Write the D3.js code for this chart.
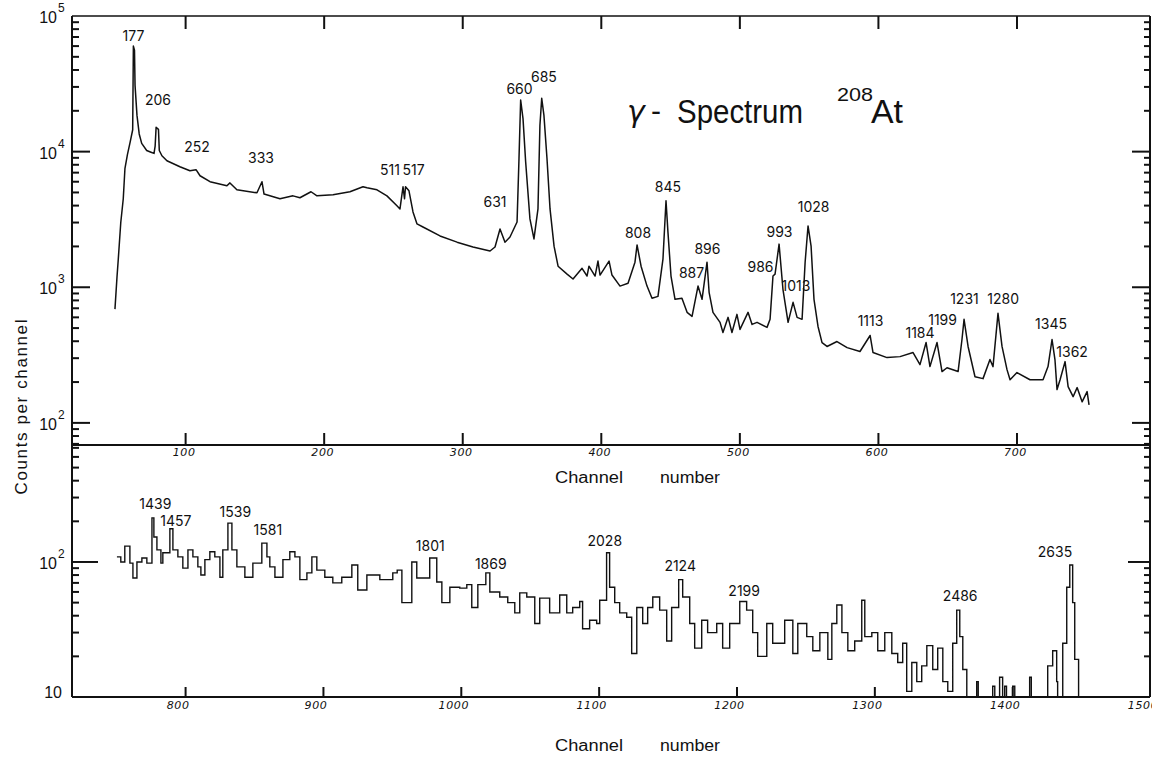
<!DOCTYPE html>
<html>
<head>
<meta charset="utf-8">
<script src="https://cdn.jsdelivr.net/npm/d3@7"></script>
<style>
  body { margin: 0; background: #fff; }
  svg { display: block; }
  text { fill: #111; }
</style>
</head>
<body>
<svg id="chart" width="1152" height="764"></svg>
<script>
// upper spectrum, channels 0-800
const topChannels = [
  49.0, 50.5, 51.4, 53.2, 55.0, 56.2, 58.0, 60.0, 61.8, 62.3,
  63.1, 63.5, 64.9, 66.5, 68.3, 71.9, 75.0, 77.2, 78.0, 78.7,
  80.4, 81.0, 82.9, 86.5, 95.9, 103.1, 107.5, 110.4, 117.6, 129.8,
  132.0, 137.0, 151.5, 155.1, 156.6, 168.1, 177.5, 182.5, 190.5, 194.8,
  206.4, 218.6, 228.0, 230.9, 238.1, 245.3, 252.5, 254.7, 256.9, 258.0,
  258.7, 261.2, 264.1, 267.0, 271.3, 283.6, 295.9, 307.4, 319.7, 323.3,
  326.9, 330.5, 334.1, 339.2, 340.6, 341.8, 343.5, 345.4, 348.5, 351.4,
  354.3, 355.7, 357.0, 358.6, 360.8, 363.0, 365.9, 368.8, 375.3, 379.6,
  386.1, 389.7, 391.1, 395.5, 397.6, 399.1, 405.6, 407.7, 413.5, 419.3,
  424.3, 425.8, 428.7, 433.0, 436.6, 440.9, 444.5, 446.7, 448.1, 450.3,
  453.2, 458.2, 461.9, 465.5, 469.8, 472.7, 476.3, 477.8, 480.6, 485.7,
  487.8, 491.5, 494.3, 497.9, 500.1, 505.9, 508.8, 512.4, 519.6, 521.8,
  523.9, 525.4, 528.3, 531.1, 534.8, 538.4, 541.3, 544.9, 547.1, 549.2,
  551.4, 553.5, 556.4, 559.3, 562.9, 570.1, 577.4, 586.7, 594.0, 596.1,
  606.2, 615.6, 625.0, 630.0, 634.4, 637.2, 642.3, 645.9, 649.5, 657.5,
  660.3, 661.8, 664.7, 669.7, 675.5, 680.5, 682.7, 686.3, 689.2, 692.8,
  695.0, 700.0, 709.4, 718.8, 722.4, 725.3, 727.4, 728.9, 731.1, 734.7,
  736.9, 740.5, 743.4, 747.0, 750.6, 752.0
];
const topCounts = [
  690, 1200, 1610, 3000, 4490, 7480, 9500, 11800, 14500, 60000,
  56000, 30800, 18500, 13500, 11500, 10200, 9900, 9700, 11000, 15100,
  14600, 10200, 9330, 8570, 7740, 7230, 7360, 6640, 6000, 5600,
  5880, 5230, 4970, 6000, 4870, 4490, 4720, 4570, 5060, 4720,
  4800, 5060, 5510, 5410, 5230, 4720, 3990, 3780, 5510, 4490,
  5510, 5140, 3590, 2930, 2780, 2390, 2150, 1980, 1850, 1980,
  2690, 2150, 2345, 3030, 8900, 24000, 17500, 8430, 3190, 2270,
  3780, 15600, 24700, 18500, 8900, 3780, 2010, 1430, 1250, 1150,
  1380, 1210, 1430, 1210, 1560, 1230, 1560, 1230, 1020, 1070,
  1530, 2050, 1430, 1020, 829, 857, 1610, 4340, 2550, 1210,
  815, 829, 653, 610, 1020, 815, 1530, 918, 653, 551,
  464, 600, 464, 631, 489, 653, 532, 551, 506, 580,
  1210, 1250, 2080, 966, 551, 774, 600, 580, 1530, 2830,
  2010, 815, 514, 391, 366, 398, 359, 336, 441, 330,
  303, 308, 330, 269, 391, 260, 391, 239, 255, 239,
  412, 580, 366, 219, 212, 293, 260, 642, 366, 247,
  208, 235, 208, 208, 260, 412, 293, 176, 208, 283,
  185, 156, 182, 143, 170, 136
];

// lower spectrum, channels 700-1500
const botChannels = [
  750.2, 753.0, 755.9, 759.6, 761.8, 764.7, 768.3, 771.9, 775.6, 777.0,
  779.2, 782.1, 783.5, 788.6, 790.8, 794.4, 798.0, 801.7, 805.3, 808.9,
  811.1, 814.0, 817.6, 821.2, 824.9, 827.0, 830.7, 833.6, 837.2, 843.0,
  848.8, 855.3, 859.0, 861.1, 864.8, 870.6, 875.6, 879.3, 882.9, 888.0,
  891.6, 895.2, 901.0, 906.8, 913.3, 920.6, 924.9, 931.5, 940.9, 950.3,
  953.5, 956.9, 964.1, 967.7, 977.1, 982.2, 985.9, 991.7, 998.9, 1004.0,
  1007.6, 1012.0, 1017.8, 1020.7, 1027.9, 1033.7, 1038.8, 1042.4, 1047.5, 1053.3,
  1056.9, 1064.1, 1071.4, 1076.5, 1080.8, 1085.9, 1088.0, 1093.1, 1098.2, 1100.4,
  1105.4, 1107.6, 1111.3, 1114.9, 1120.0, 1123.6, 1127.3, 1131.6, 1135.2, 1138.9,
  1143.9, 1149.0, 1152.6, 1157.7, 1160.6, 1165.7, 1169.3, 1174.4, 1178.7, 1185.3,
  1189.6, 1194.7, 1202.0, 1207.0, 1211.4, 1215.0, 1221.6, 1225.9, 1234.6, 1240.5,
  1244.1, 1250.6, 1255.0, 1260.1, 1265.9, 1268.8, 1272.4, 1276.1, 1280.4, 1285.4,
  1290.5, 1292.7, 1297.8, 1302.1, 1307.2, 1312.3, 1316.6, 1320.2, 1323.1, 1326.8,
  1330.4, 1334.0, 1337.7, 1342.0, 1345.6, 1349.3, 1352.9, 1356.5, 1359.4, 1361.6,
  1363.8, 1366.7, 1373.9, 1375.0, 1377.6, 1385.5, 1387.0, 1390.5, 1392.7, 1394.2,
  1395.5, 1400.0, 1401.5, 1412.3, 1413.5, 1425.4, 1429.0, 1431.9, 1432.6, 1436.3,
  1439.2, 1441.4, 1443.5, 1445.0, 1447.1, 1447.8
];
const botCounts = [
  109, 100, 131, 98, 76, 100, 107, 98, 212, 153,
  123, 98, 117, 176, 123, 109, 90, 123, 109, 92,
  80, 104, 119, 109, 77, 123, 194, 123, 92, 77,
  98, 138, 109, 92, 77, 104, 119, 109, 74, 83,
  109, 87, 77, 70, 77, 95, 62, 80, 74, 83,
  87, 50, 100, 76, 107, 71, 50, 65, 64, 68,
  46, 68, 83, 60, 55, 50, 42, 59, 55, 35,
  54, 42, 57, 42, 46, 51, 32, 37, 35, 52,
  117, 65, 50, 42, 39, 21, 46, 35, 46, 55,
  44, 26, 46, 74, 55, 35, 23, 37, 30, 35,
  23, 35, 51, 44, 30, 20, 35, 25, 37, 21,
  35, 28, 22, 30, 19, 35, 48, 30, 22, 26,
  52, 28, 30, 22, 30, 21, 18, 25, 11, 18,
  13, 17, 24, 16, 23, 13, 11, 25, 44, 28,
  16, 10, 13, 10, 10, 12, 10, 14, 10, 12,
  10, 12, 10, 14, 10, 17, 22, 13, 10, 25,
  65, 95, 50, 19, 19, 10
];

// peak energies (keV) and where their labels sit (channel, counts)
const topPeaks = [177, 206, 252, 333, 511, 517, 631, 660, 685, 808, 845, 887,
  896, 986, 993, 1013, 1028, 1113, 1184, 1199, 1231, 1280, 1345, 1362];
const topPeakChannels = [62.4, 80.0, 108.2, 154.4, 247.5, 264.5, 323.3, 341.0, 358.6, 426.5, 448.1, 465.1,
  476.6, 514.9, 528.6, 540.5, 553.2, 594.3, 630.0, 646.3, 662.1, 690.0, 724.6, 739.8];
const topPeakCounts = [65300, 21900, 10000, 8300, 6760, 6760, 3920, 26400, 32400, 2310, 5060, 1166,
  1750, 1290, 2345, 934, 3590, 514, 419, 524, 748, 748, 489, 308];

const botPeaks = [1439, 1457, 1539, 1581, 1801, 1869, 2028, 2124, 2199, 2486, 2635];
const botPeakChannels = [778.1, 793.0, 836.1, 859.7, 977.5, 1021.4, 1104.1, 1158.8, 1205.2, 1361.9, 1430.7];
const botPeakCounts = [247, 185, 215, 158, 120, 89, 131, 86, 56, 51, 109];

const topTicks = [100, 200, 300, 400, 500, 600, 700];
const botTicks = [800, 900, 1000, 1100, 1200, 1300, 1400, 1500];
const topDecades = [1e5, 1e4, 1e3, 1e2];
const botDecades = [1e2, 10];

const svg = d3.select("#chart");
const xLeft = 72, xRight = 1150, yUp = 16, yMid = 445, yDown = 697;

const xTop = d3.scaleLinear().domain([18, 796]).range([xLeft, xRight]);
const xBot = d3.scaleLinear().domain([717.6, 1499.6]).range([xLeft, xRight]);
const yTop = d3.scaleLog().domain([68.7, 1e5]).range([yMid, yUp]);
const yBot = d3.scaleLog().domain([10, 735]).range([yDown, yMid]);

const ink = "#111";
const numFont = "DejaVu Sans, sans-serif";
const peakFont = "Inter, DejaVu Sans, sans-serif";
const letFont = "Liberation Sans, Arial, sans-serif";

// frame
svg.append("g")
  .attr("stroke", ink)
  .selectAll("line")
  .data([
    [xLeft, yUp, xRight, yUp, 1.6],
    [xLeft, yMid, xRight, yMid, 2],
    [xLeft, yDown, xRight, yDown, 2],
    [xLeft, yUp, xLeft, yDown, 2],
    [xRight, yUp, xRight, yDown, 2]
  ])
  .join("line")
  .attr("x1", d => d[0]).attr("y1", d => d[1])
  .attr("x2", d => d[2]).attr("y2", d => d[3])
  .attr("stroke-width", d => d[4]);

// tick marks pointing into the plot
const marks = svg.append("g").attr("stroke", ink).attr("stroke-width", 2);
const vTicks = (values, x, y0, len) => marks.append("g").selectAll("line")
  .data(values).join("line")
  .attr("x1", d => x(d)).attr("x2", d => x(d))
  .attr("y1", y0).attr("y2", y0 + len);
const hTicks = (values, y, x0, len) => marks.append("g").selectAll("line")
  .data(values).join("line")
  .attr("y1", d => y(d)).attr("y2", d => y(d))
  .attr("x1", x0).attr("x2", x0 + len);

vTicks(topTicks, xTop, yMid, -12);
vTicks(topTicks, xTop, yUp, 13);
vTicks(botTicks.filter(v => v < 1500), xBot, yDown, -10);

const isDecade = v => Math.abs(Math.log10(v) - Math.round(Math.log10(v))) < 1e-9;
const logTicks = (y, majorLeft, majorRight) => {
  const minor = y.ticks().filter(v => !isDecade(v));
  const major = y.ticks().filter(isDecade).filter(v => y(v) > yUp + 2);
  hTicks(minor, y, xLeft, 7);
  hTicks(major, y, xLeft, majorLeft);
  hTicks(minor, y, xRight, -6);
  hTicks(major, y, xRight, -majorRight);
};
logTicks(yTop, 18, 18);
logTicks(yBot, 26, 22);

// channel labels
svg.append("g")
  .attr("transform", `translate(0,${yMid})`)
  .call(d3.axisBottom(xTop).tickValues(topTicks).tickSize(0).tickPadding(3).tickFormat(d3.format("d")))
  .call(g => g.select(".domain").remove())
  .call(g => g.selectAll("text")
    .attr("dx", -2)
    .style("font", `italic 11px ${numFont}`)
    .style("letter-spacing", "0.6px"));

svg.append("g")
  .attr("transform", `translate(0,${yDown})`)
  .call(d3.axisBottom(xBot).tickValues(botTicks).tickSize(0).tickPadding(4).tickFormat(d3.format("d")))
  .call(g => g.select(".domain").remove())
  .call(g => g.selectAll("text")
    .attr("dx", -8)
    .style("font", `italic 11px ${numFont}`)
    .style("letter-spacing", "0.6px"));

// power-of-ten labels
const powerLabel = (y, v) => {
  const exp = Math.round(Math.log10(v));
  const yy = Math.min(y(v) + 7, yDown + 1);
  const g = svg.append("g");
  g.append("text")
    .attr("x", exp > 1 ? 57 : 62).attr("y", yy)
    .attr("text-anchor", "end")
    .style("font", `16px ${letFont}`)
    .text("10");
  if (exp > 1) {
    g.append("text")
      .attr("x", 58).attr("y", yy - 11)
      .style("font", `12px ${letFont}`)
      .text(exp);
  }
};
topDecades.forEach(v => powerLabel(yTop, v));
botDecades.forEach(v => powerLabel(yBot, v));

// spectra
svg.append("clipPath").attr("id", "clip-top")
  .append("rect").attr("x", xLeft).attr("y", yUp).attr("width", xRight - xLeft).attr("height", yMid - yUp);
svg.append("clipPath").attr("id", "clip-bot")
  .append("rect").attr("x", xLeft).attr("y", yMid).attr("width", xRight - xLeft).attr("height", yDown - yMid + 1);

const topLine = d3.line()
  .x(d => xTop(d[0]))
  .y(d => yTop(d[1]));

const botLine = d3.line()
  .curve(d3.curveStepAfter)
  .x(d => xBot(d[0]))
  .y(d => yBot(d[1]));

svg.append("path")
  .datum(d3.zip(topChannels, topCounts))
  .attr("clip-path", "url(#clip-top)")
  .attr("d", topLine)
  .attr("fill", "none")
  .attr("stroke", ink)
  .attr("stroke-width", 1.5)
  .attr("stroke-linejoin", "round");

svg.append("path")
  .datum(d3.zip(botChannels, botCounts))
  .attr("clip-path", "url(#clip-bot)")
  .attr("d", botLine)
  .attr("fill", "none")
  .attr("stroke", ink)
  .attr("stroke-width", 1.4);

// peak labels
svg.append("g")
  .selectAll("text")
  .data(d3.zip(topPeaks, topPeakChannels, topPeakCounts))
  .join("text")
  .attr("x", d => xTop(d[1]))
  .attr("y", d => yTop(d[2]))
  .attr("text-anchor", "middle")
  .style("font", `14px ${peakFont}`)
  .text(d => d[0]);

svg.append("g")
  .selectAll("text")
  .data(d3.zip(botPeaks, botPeakChannels, botPeakCounts))
  .join("text")
  .attr("x", d => xBot(d[1]))
  .attr("y", d => yBot(d[2]))
  .attr("text-anchor", "middle")
  .style("font", `14px ${peakFont}`)
  .text(d => d[0]);

// axis titles
const channelTitle = y => {
  svg.append("text").attr("x", 555).attr("y", y)
    .attr("textLength", 68).attr("lengthAdjust", "spacingAndGlyphs")
    .style("font", `16px ${letFont}`).text("Channel");
  svg.append("text").attr("x", 660).attr("y", y)
    .attr("textLength", 60).attr("lengthAdjust", "spacingAndGlyphs")
    .style("font", `16px ${letFont}`).text("number");
};
channelTitle(483);
channelTitle(751);

svg.append("text")
  .attr("transform", "translate(27,407) rotate(-90)")
  .attr("text-anchor", "middle")
  .attr("textLength", 175).attr("lengthAdjust", "spacing")
  .style("font", `17px ${letFont}`)
  .text("Counts  per  channel");

// title
const title = svg.append("g").style("font-family", letFont);
title.append("text").attr("x", 627).attr("y", 122)
  .style("font", `italic 30px ${numFont}`).text("γ");
title.append("text").attr("x", 651).attr("y", 121)
  .style("font-size", "30px").text("-");
title.append("text").attr("x", 677).attr("y", 123)
  .attr("textLength", 126).attr("lengthAdjust", "spacingAndGlyphs")
  .style("font-size", "33px").text("Spectrum");
title.append("text").attr("x", 837).attr("y", 101)
  .attr("textLength", 36).attr("lengthAdjust", "spacingAndGlyphs")
  .style("font-size", "19px").text("208");
title.append("text").attr("x", 871).attr("y", 123)
  .attr("textLength", 32).attr("lengthAdjust", "spacingAndGlyphs")
  .style("font-size", "33px").text("At");
</script>
</body>
</html>
